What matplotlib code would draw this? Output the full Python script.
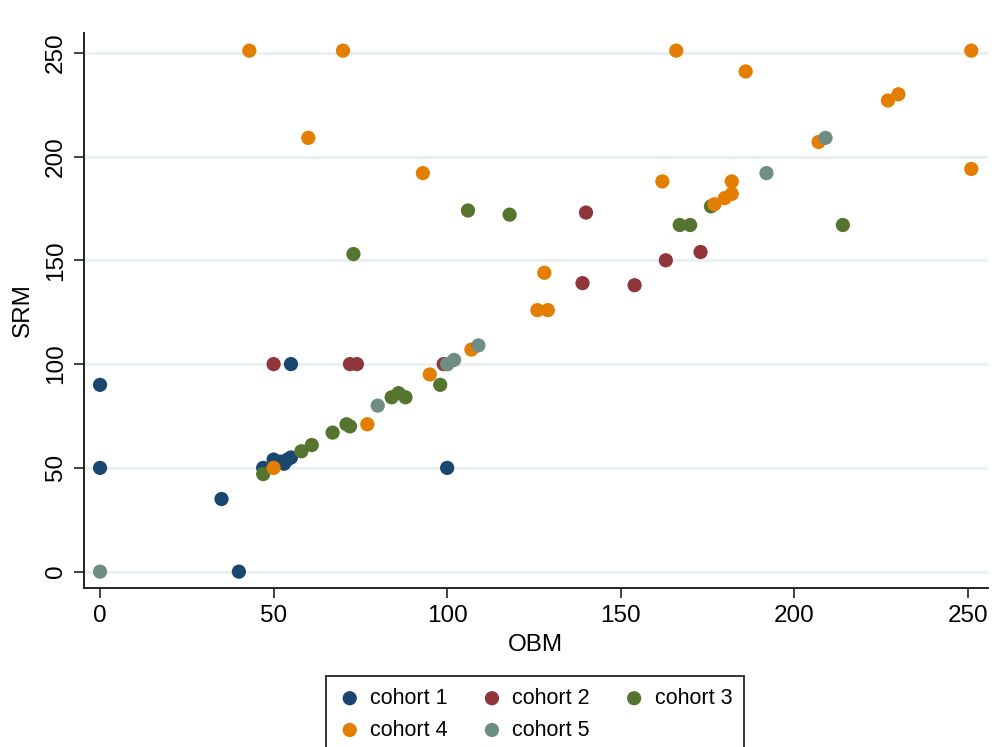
import matplotlib
matplotlib.use("Agg")
import matplotlib.pyplot as plt

plt.rcParams['font.family'] = ['Liberation Sans', 'DejaVu Sans']

# OBM / SRM readings per cohort
c1_x = [0, 0, 35, 40, 55, 47, 50, 52, 53, 54, 55, 100]
c1_y = [90, 50, 35, 0, 100, 50, 54, 53, 52, 54, 55, 50]

c2_x = [50, 72, 74, 99, 100, 139, 140, 154, 163, 173]
c2_y = [100, 100, 100, 100, 100, 139, 173, 138, 150, 154]

c3_x = [47, 58, 61, 67, 71, 72, 84, 86, 88, 98, 73, 106, 118, 167, 170, 176, 214]
c3_y = [47, 58, 61, 67, 71, 70, 84, 86, 84, 90, 153, 174, 172, 167, 167, 176, 167]

c4_x = [43, 70, 166, 251, 186, 227, 230, 60, 93, 251, 162, 182, 177, 180, 182,
        207, 128, 126, 129, 50, 77, 95, 107]
c4_y = [251, 251, 251, 251, 241, 227, 230, 209, 192, 194, 188, 188, 177, 180, 182,
        207, 144, 126, 126, 50, 71, 95, 107]

c5_x = [0, 80, 100, 102, 109, 192, 209]
c5_y = [0, 80, 100, 102, 109, 192, 209]

cohorts = ['cohort 1', 'cohort 2', 'cohort 3', 'cohort 4', 'cohort 5']
colors = ['#1a476f', '#90353b', '#55752f', '#e37e00', '#6e8e84']
xs = [c1_x, c2_x, c3_x, c4_x, c5_x]
ys = [c1_y, c2_y, c3_y, c4_y, c5_y]

ticks = [0, 50, 100, 150, 200, 250]

fig = plt.figure(figsize=(10.03, 7.47), dpi=100)
ax = fig.add_axes([0.0833, 0.2129, 0.9017, 0.7429])

handles = []
for name, col, x, y in zip(cohorts, colors, xs, ys):
    h = ax.scatter(x, y, s=105, color=col, edgecolors='none', label=name, zorder=3)
    handles.append(h)

ax.set_xlim(-4.75, 255.8)
ax.set_ylim(-7.85, 259.5)
ax.set_xticks(ticks)
ax.set_yticks(ticks)
ax.grid(axis='y', color='#e9f0f2', linewidth=2.2, zorder=0)
ax.grid(axis='x', visible=False)
for side in ['top', 'right']:
    ax.spines[side].set_visible(False)
for side in ['left', 'bottom']:
    ax.spines[side].set_linewidth(1.4)
    ax.spines[side].set_color('#222222')
ax.tick_params(axis='both', length=7, width=1.2, labelsize=17.5, color='#222222', pad=5)
for lab in ax.get_yticklabels():
    lab.set_rotation(90)
    lab.set_va('center')

ax.set_xlabel('OBM', fontsize=17.5, labelpad=5)
ax.set_ylabel('SRM', fontsize=17.5, labelpad=8)

# legend filled row by row: 1 2 3 / 4 5
order = [0, 3, 1, 4, 2]
leg = fig.legend([handles[i] for i in order], [cohorts[i] for i in order],
                 ncol=3, loc='upper center', bbox_to_anchor=(0.5334, 0.095),
                 borderaxespad=0, fontsize=15.5, frameon=True, fancybox=False,
                 edgecolor='black', handletextpad=0.4, columnspacing=1.5,
                 borderpad=0.55, labelspacing=0.5, markerscale=1.0,
                 handlelength=1.1)
leg.get_frame().set_linewidth(1.4)

fig.savefig('out.png', dpi=100)
